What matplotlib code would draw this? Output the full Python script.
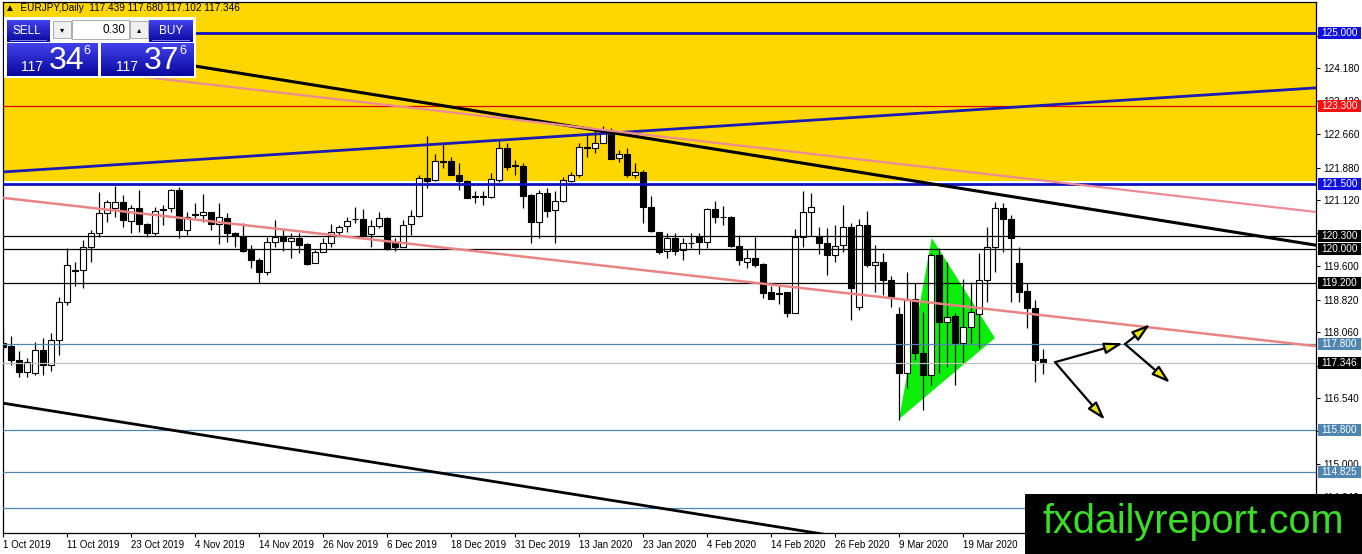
import matplotlib
matplotlib.use('Agg')
import matplotlib.pyplot as plt
from matplotlib.patches import Rectangle, Polygon
from matplotlib.transforms import blended_transform_factory
import numpy as np

plt.rcParams['font.family'] = ['Liberation Sans', 'DejaVu Sans']

W, H, DPI = 1362, 554, 100

# ---------------- data ----------------
opens = [117.81, 117.74, 117.42, 117.14, 117.12, 117.65, 117.30, 117.88, 118.77, 119.48,
         119.51, 120.04, 120.37, 120.83, 120.94, 121.08, 120.64, 120.94, 120.57, 120.37,
         120.90, 120.94, 121.36, 120.43, 120.80, 120.78, 120.85, 120.57, 120.71, 120.37,
         120.27, 120.00, 119.74, 119.46, 120.16, 120.27, 120.18, 120.25, 120.11, 119.67,
         119.92, 120.13, 120.39, 120.53, 120.69, 120.69, 120.34, 120.53, 120.71, 120.13,
         120.04, 120.57, 120.76, 121.64, 121.59, 122.03, 122.03, 121.71, 121.57, 121.22,
         121.21, 121.20, 121.59, 122.33, 121.94, 121.92, 121.24, 120.62, 121.29, 120.90,
         121.11, 121.57, 121.71, 122.36, 122.33, 122.45, 122.68, 122.10, 122.20, 121.71,
         121.78, 120.97, 120.39, 119.95, 120.25, 119.97, 120.13, 120.27, 120.16, 120.92,
         120.74, 120.73, 120.06, 119.69, 119.78, 119.65, 118.99, 118.97, 119.00, 118.51,
         120.27, 120.85, 120.27, 120.13, 119.85, 120.09, 120.50, 118.65, 120.55, 119.62,
         119.69, 119.27, 118.49, 117.12, 118.83, 117.58, 117.07, 119.85, 118.30, 118.44,
         117.81, 118.18, 118.49, 119.27, 120.04, 120.94, 120.69, 119.67, 119.02, 118.63,
         117.439]
highs = [118.14, 117.98, 117.63, 117.47, 117.84, 117.93, 118.05, 118.88, 120.02, 119.69,
         120.20, 120.43, 121.31, 121.13, 121.45, 121.24, 121.01, 121.36, 120.60, 120.97,
         121.01, 121.38, 121.43, 120.85, 121.06, 121.27, 120.85, 121.06, 120.83, 120.39,
         120.60, 120.09, 119.78, 120.27, 120.67, 120.43, 120.37, 120.37, 120.13, 119.97,
         120.25, 120.57, 120.55, 120.74, 120.97, 120.92, 120.67, 120.85, 120.74, 120.25,
         120.67, 120.90, 121.71, 122.61, 122.20, 122.43, 122.13, 121.99, 121.59, 121.34,
         121.34, 121.75, 122.50, 122.45, 122.06, 121.99, 121.27, 121.36, 121.41, 121.34,
         121.66, 121.78, 122.45, 122.68, 122.75, 122.84, 122.80, 122.29, 122.33, 121.99,
         121.82, 121.22, 120.39, 120.37, 120.37, 120.25, 120.37, 120.37, 120.94, 121.11,
         120.99, 120.76, 120.32, 120.00, 120.27, 119.67, 119.14, 119.14, 119.00, 120.46,
         121.34, 121.29, 120.50, 120.48, 120.55, 121.01, 120.60, 120.69, 120.87, 120.09,
         119.90, 119.37, 118.65, 119.46, 119.21, 118.53, 119.90, 120.02, 119.69, 118.51,
         119.30, 119.23, 119.90, 120.50, 121.08, 121.06, 120.78, 120.04, 119.21, 118.81,
         117.680]
lows = [117.65, 117.30, 117.03, 117.03, 117.07, 117.07, 117.17, 117.54, 118.69, 119.14,
        119.09, 119.69, 120.27, 120.62, 120.74, 120.50, 120.37, 120.39, 120.27, 120.32,
        120.55, 120.85, 120.25, 120.32, 120.71, 120.62, 120.43, 120.11, 120.16, 120.04,
        119.92, 119.55, 119.21, 119.39, 120.04, 119.95, 119.78, 119.90, 119.62, 119.67,
        119.92, 120.04, 120.32, 120.39, 120.60, 120.32, 120.04, 120.48, 119.97, 119.95,
        120.04, 120.32, 120.74, 121.41, 121.57, 121.87, 121.71, 121.36, 121.17, 121.06,
        121.01, 121.17, 121.55, 121.82, 121.71, 120.94, 120.13, 120.25, 120.74, 120.13,
        121.08, 121.55, 121.66, 122.13, 122.22, 122.45, 122.08, 122.01, 121.66, 121.64,
        120.60, 120.39, 119.88, 119.78, 119.85, 119.74, 120.02, 119.88, 120.02, 120.60,
        120.55, 120.04, 119.62, 119.55, 119.58, 118.86, 118.83, 118.72, 118.42, 118.51,
        120.04, 120.29, 119.88, 119.39, 119.69, 119.92, 118.35, 118.58, 119.58, 119.00,
        118.93, 118.65, 116.03, 116.77, 117.42, 116.26, 116.84, 117.12, 117.26, 116.84,
        117.35, 117.81, 117.70, 118.76, 119.46, 119.92, 118.76, 118.76, 118.16, 116.91,
        117.102]
closes = [117.72, 117.42, 117.14, 117.37, 117.65, 117.30, 117.88, 118.77, 119.62, 119.51,
          120.04, 120.37, 120.83, 121.08, 121.08, 120.67, 120.94, 120.57, 120.37, 120.87,
          120.92, 121.36, 120.43, 120.73, 120.79, 120.85, 120.57, 120.73, 120.37, 120.32,
          119.95, 119.74, 119.46, 120.16, 120.27, 120.18, 120.25, 120.09, 119.65, 119.92,
          120.13, 120.39, 120.50, 120.64, 120.68, 120.32, 120.53, 120.71, 120.00, 120.04,
          120.55, 120.76, 121.64, 121.57, 122.03, 122.02, 121.71, 121.57, 121.17, 121.21,
          121.22, 121.62, 122.33, 121.89, 121.92, 121.22, 120.62, 121.29, 120.87, 121.11,
          121.59, 121.71, 122.36, 122.33, 122.45, 122.68, 122.08, 122.20, 121.71, 121.78,
          120.97, 120.41, 119.92, 120.25, 119.95, 120.13, 120.14, 120.16, 120.92, 120.73,
          120.73, 120.06, 119.74, 119.78, 119.62, 118.97, 118.83, 118.96, 118.51, 120.27,
          120.85, 120.97, 120.13, 119.85, 120.06, 120.50, 119.09, 120.55, 119.62, 119.69,
          119.27, 118.88, 117.12, 118.81, 117.58, 117.07, 119.85, 118.30, 118.42, 117.81,
          118.18, 118.53, 119.27, 120.04, 120.94, 120.69, 120.25, 119.00, 118.63, 117.42,
          117.346]

date_tick_bars = [0, 8, 16, 24, 32, 40, 48, 56, 64, 72, 80, 88, 96, 104, 112, 120, 128]
date_tick_labels = ['1 Oct 2019', '11 Oct 2019', '23 Oct 2019', '4 Nov 2019', '14 Nov 2019',
                    '26 Nov 2019', '6 Dec 2019', '18 Dec 2019', '31 Dec 2019', '13 Jan 2020',
                    '23 Jan 2020', '4 Feb 2020', '14 Feb 2020', '26 Feb 2020', '9 Mar 2020',
                    '19 Mar 2020', '31 Mar 2020']
price_ticks = [124.940, 124.180, 123.420, 122.660, 121.880, 121.120, 120.360, 119.600,
               118.820, 118.060, 117.280, 116.540, 115.780, 115.000, 114.240]
# tick labels that sit fully under a level box are left blank
price_tick_hidden = [124.940, 120.360, 117.280, 115.780]

level_prices = [125.000, 123.300, 121.500, 120.300, 120.000, 119.200, 117.800, 117.346, 115.800, 114.825, 114.000]
level_colors = ['#1010C0', '#E00000', '#1010C0', 'black', 'black', 'black', '#4F86B0', '#C0C0C0', '#4F86B0', '#4F86B0', '#4F86B0']
level_widths = [2.0, 0.9, 2.0, 0.9, 0.9, 0.9, 0.9, 0.9, 0.9, 0.9, 0.9]
level_label_bg = ['#1010E0', '#FF1010', '#1010E0', 'black', 'black', 'black', '#4F86B0', 'black', '#4F86B0', '#4F86B0', None]

zone_bars = [0, 164.2]
zone_low, zone_high = 121.57, 126.5

blue_trend_bars, blue_trend_prices = [0, 164.2], [121.78, 123.73]
black_trend_bars, black_trend_prices = [10, 164.2], [124.65, 120.08]
pink_up_bars, pink_up_prices = [14, 164.2], [124.06, 120.85]
pink_low_bars, pink_low_prices = [0, 164.2], [121.18, 117.74]
black_low_bars, black_low_prices = [0, 130], [116.42, 112.57]

triangle_bars = [112, 116.1, 124]
triangle_prices = [116.05, 120.25, 117.93]

arrow_from_bars = [131.5, 131.5, 140.25, 140.25]
arrow_from_prices = [117.37, 117.37, 117.79, 117.79]
arrow_to_bars = [140.0, 137.75, 143.4, 145.9]
arrow_to_prices = [117.81, 116.03, 118.25, 116.89]

header = '\u25B2  EURJPY,Daily  117.439 117.680 117.102 117.346'

# ---------------- figure ----------------
fig = plt.figure(figsize=(W / DPI, H / DPI), dpi=DPI)
fig.patch.set_facecolor('white')
ax = fig.add_axes([3 / W, (H - 533) / H, 1313 / W, 531 / H])
ax.set_facecolor('white')
ax.set_xlim(0, 164.125)
ax.set_ylim(113.41, 125.72)

ax.fill_between(zone_bars, zone_low, zone_high, color='#FFD700', lw=0, zorder=1)
ax.add_patch(Polygon(np.column_stack([triangle_bars, triangle_prices]), closed=True,
                     fc='#0AEE0A', ec='none', zorder=1.5))

o = np.array(opens); h = np.array(highs); l = np.array(lows); c = np.array(closes)
ks = np.arange(len(o))
ax.vlines(ks, l, h, color='black', lw=0.9, zorder=3)
bull = c >= o
ax.bar(ks, np.maximum(np.abs(c - o), 0.006), bottom=np.minimum(o, c), width=0.64,
       color=np.where(bull, 'white', 'black'), edgecolor='black', linewidth=0.8, zorder=4)

for p, col, lw in zip(level_prices, level_colors, level_widths):
    ax.axhline(p, color=col, lw=lw, zorder=5)

ax.plot(blue_trend_bars, blue_trend_prices, color='#1C1CB4', lw=2.0, zorder=5)
ax.plot(black_trend_bars, black_trend_prices, color='black', lw=2.2, zorder=5)
ax.plot(pink_up_bars, pink_up_prices, color='#EC8C96', lw=1.6, zorder=5)
ax.plot(pink_low_bars, pink_low_prices, color='#E88484', lw=1.8, zorder=5)
ax.plot(black_low_bars, black_low_prices, color='black', lw=2.0, zorder=5)

for x0, y0, x1, y1 in zip(arrow_from_bars, arrow_from_prices, arrow_to_bars, arrow_to_prices):
    ax.annotate('', xy=(x1, y1), xytext=(x0, y0),
                arrowprops=dict(arrowstyle='-|>,head_length=1.1,head_width=0.34',
                                lw=1.6, ec='black', fc='#E6E600', shrinkA=0, shrinkB=0),
                zorder=6)

for s in ['left', 'right', 'bottom', 'top']:
    ax.spines[s].set_color('black')
    ax.spines[s].set_linewidth(0.9)
ax.yaxis.tick_right()
ax.set_yticks(price_ticks)
ax.set_yticklabels(['' if v in price_tick_hidden else '%.3f' % v for v in price_ticks])
ax.tick_params(axis='y', direction='out', length=3, width=0.8, labelsize=7.2, pad=2, colors='black')
ax.set_xticks(date_tick_bars)
ax.set_xticklabels(date_tick_labels, ha='left')
ax.tick_params(axis='x', direction='out', length=3, width=0.8, labelsize=7, pad=2, colors='black')

# level label boxes on the price scale
trans = blended_transform_factory(ax.transAxes, ax.transData)
px_per_price = (531 / (125.72 - 113.41))
box_h = 12 / px_per_price
bx0 = (1318 - 3) / 1313
bx1 = (1361 - 3) / 1313
for p, bg in zip(level_prices, level_label_bg):
    if bg is None:
        continue
    ax.add_patch(Rectangle((bx0, p - box_h / 2), bx1 - bx0, box_h, transform=trans,
                           fc=bg, ec='none', zorder=9, clip_on=False))
    ax.text((bx0 + bx1) / 2, p, '%.3f' % p, transform=trans, ha='center', va='center',
            fontsize=7.2, color='white', zorder=10, clip_on=False)

# ---------------- overlays (pixel helpers) ----------------
def prect(x0, y0, x1, y1, **kw):
    fig.patches.append(Rectangle((x0 / W, 1 - y1 / H), (x1 - x0) / W, (y1 - y0) / H,
                                 transform=fig.transFigure, **kw))

def ptext(x, y, s, **kw):
    fig.text(x / W, 1 - y / H, s, **kw)

def gradient_box(x0, y0, x1, y1):
    a = fig.add_axes([x0 / W, 1 - y1 / H, (x1 - x0) / W, (y1 - y0) / H], zorder=11)
    top = np.array([0.26, 0.26, 0.93]); bot = np.array([0.03, 0.03, 0.62])
    t = np.linspace(0, 1, 50)[:, None]
    img = (top[None, :] * (1 - t) + bot[None, :] * t)[:, None, :]
    a.imshow(img, aspect='auto', extent=[0, 1, 0, 1], origin='upper')
    a.set_axis_off()

ptext(5, 8, header, fontsize=7.2, ha='left', va='center', color='black', zorder=12)

prect(4, 17, 196, 78, fc='white', ec='none', zorder=10)
gradient_box(7, 20, 50, 42)
gradient_box(149, 20, 193, 42)
gradient_box(7, 43, 98, 76)
gradient_box(101, 43, 193, 76)
prect(10, 40.5, 47, 41.3, fc='#8080F0', ec='none', zorder=12)
prect(152, 40.5, 190, 41.3, fc='#8080F0', ec='none', zorder=12)
prect(53, 21, 71, 38, fc='#F0F0F0', ec='#A0A0A0', lw=0.6, zorder=11)
prect(72, 20, 129, 39, fc='white', ec='#A0A0A0', lw=0.6, zorder=11)
prect(130, 21, 148, 38, fc='#F0F0F0', ec='#A0A0A0', lw=0.6, zorder=11)
ptext(27, 31, 'SELL', fontsize=8.5, color='white', ha='center', va='center', zorder=13)
ptext(171, 31, 'BUY', fontsize=8.5, color='white', ha='center', va='center', zorder=13)
ptext(62, 30, '\u25BE', fontsize=6, color='black', ha='center', va='center', zorder=13,
      family=['DejaVu Sans'])
ptext(139, 30, '\u25B4', fontsize=6, color='black', ha='center', va='center', zorder=13,
      family=['DejaVu Sans'])
ptext(125, 30, '0.30', fontsize=8.5, color='black', ha='right', va='center', zorder=13)
for x117, xbig, xsup, big in [(32, 67, 87, '34'), (127, 162, 183, '37')]:
    ptext(x117, 67, '117', fontsize=10, color='white', ha='center', va='center', zorder=13)
    ptext(xbig, 61, big, fontsize=23, color='white', ha='center', va='center', zorder=13)
    ptext(xsup, 51, '6', fontsize=9, color='white', ha='center', va='center', zorder=13)

prect(1025, 494, 1362, 554, fc='black', ec='none', zorder=20)
ptext(1193, 522, 'fxdailyreport.com', fontsize=28.5, color='#3CDC28', ha='center', va='center', zorder=21)

fig.savefig('out.png', dpi=DPI)
